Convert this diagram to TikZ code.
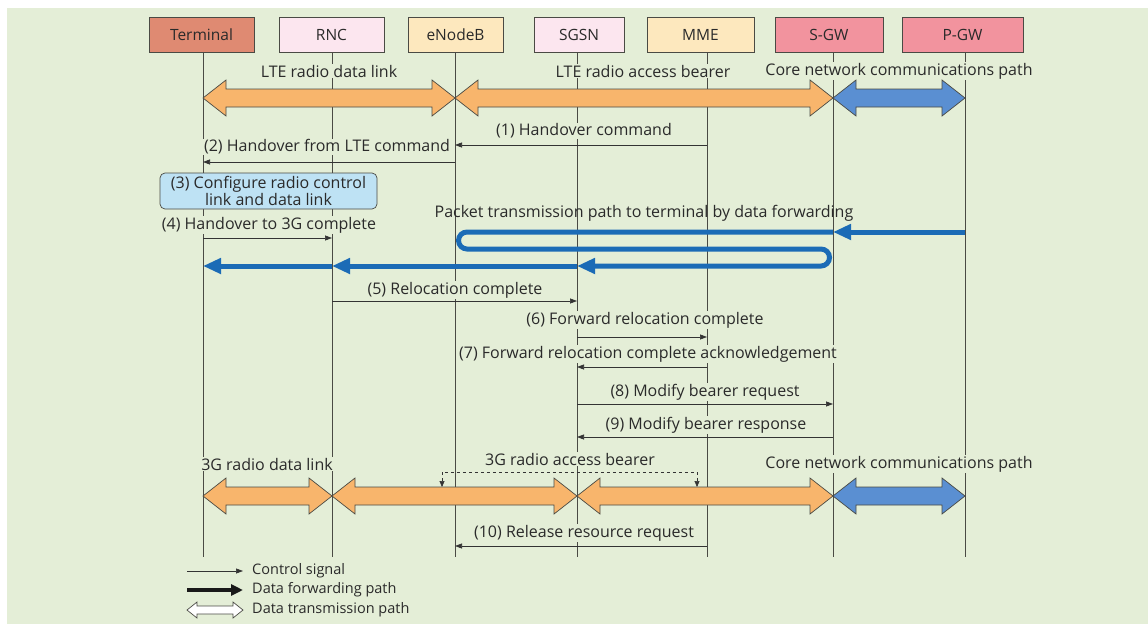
\documentclass[tikz,border=0pt]{standalone}
\usepackage{fontspec}
\setmainfont{Open Sans}
\usetikzlibrary{arrows.meta,calc}

\definecolor{bg}{HTML}{E4EED7}
\definecolor{termc}{HTML}{DF8A72}
\definecolor{pinkc}{HTML}{FCE6EF}
\definecolor{creamc}{HTML}{FDE8BE}
\definecolor{gwc}{HTML}{F2939E}
\definecolor{orangec}{HTML}{F8B56C}
\definecolor{bluec}{HTML}{5A8FD2}
\definecolor{fwdc}{HTML}{1B6BB6}
\definecolor{stepc}{HTML}{BEE2F4}
\definecolor{linec}{HTML}{4A4A44}
\definecolor{txtc}{HTML}{2A2A2A}

% outlined fat double arrow between two named points on one level
% #1 left point, #2 right point, #3 fill, #4 head length, #5 head half-height, #6 shaft half-height
\newcommand\fatpair[6]{%
  \filldraw[fill=#3, draw=linec, line width=0.7pt, line join=miter]
    (#1) -- ($(#1)+(#4,-#5)$) -- ($(#1)+(#4,-#6)$) -- ($(#2)+(-#4,-#6)$)
    -- ($(#2)+(-#4,-#5)$) -- (#2) -- ($(#2)+(-#4,#5)$) -- ($(#2)+(-#4,#6)$)
    -- ($(#1)+(#4,#6)$) -- ($(#1)+(#4,#5)$) -- cycle;}

\begin{document}
\begin{tikzpicture}[x=1pt,y=-1pt,
  hdr/.style={draw=linec, line width=0.8pt, minimum height=35pt, inner sep=0pt,
    text=txtc, font=\fontsize{15.5}{17}\selectfont},
  life/.style={draw=linec, line width=0.8pt},
  msg/.style={draw=black!80, line width=0.7pt, -{Triangle[length=7pt,width=5pt]}},
  lbl/.style={fill=bg, inner sep=1pt, text=txtc, font=\fontsize{16}{18}\selectfont},
  keytext/.style={anchor=west, inner sep=0pt, text=txtc, font=\fontsize{14.5}{16}\selectfont},
  fwd/.style={draw=fwdc, line width=5pt, -{Triangle[length=18pt,width=15pt]}},
  stepbox/.style={draw=linec, line width=0.7pt, fill=stepc, rounded corners=5pt,
    minimum width=217pt, minimum height=36pt, inner sep=0pt, align=center,
    text=txtc, font=\fontsize{16}{14}\selectfont},
  bracket/.style={draw=black!80, line width=0.6pt, dashed,
    {Triangle[length=6pt,width=5pt]}-{Triangle[length=6pt,width=5pt]}}]

\useasboundingbox (0,0) rectangle (1148,624);
\fill[white] (0,0) rectangle (1148,624);
\fill[bg] (7,8) rectangle (1148,624);

% network elements
\node[hdr, fill=termc,  minimum width=105pt] (Terminal) at (201.5,34.5) {Terminal};
\node[hdr, fill=pinkc,  minimum width=105pt] (RNC)      at (331.5,34.5) {RNC};
\node[hdr, fill=creamc, minimum width=95pt]  (eNodeB)   at (455.5,34.5) {eNodeB};
\node[hdr, fill=pinkc,  minimum width=90pt]  (SGSN)     at (579,34.5)   {SGSN};
\node[hdr, fill=creamc, minimum width=107pt] (MME)      at (700.5,34.5) {MME};
\node[hdr, fill=gwc,    minimum width=108pt] (SGW)      at (829,34.5)   {S-GW};
\node[hdr, fill=gwc,    minimum width=121pt] (PGW)      at (962.5,34.5) {P-GW};

% lifeline tops
\coordinate (lT)  at (203,52);
\coordinate (lR)  at (332,52);
\coordinate (lE)  at (455,52);
\coordinate (lSG) at (577,52);
\coordinate (lM)  at (707,52);
\coordinate (lS)  at (833,52);
\coordinate (lP)  at (965,52);
\foreach \n in {lT,lR,lE,lSG,lM,lS,lP}
  \draw[life] (\n) -- (\n |- 0,557);

% LTE bearers
\node[lbl] (labA) at (329,71) {LTE radio data link};
\node[lbl] (labB) at (643,71) {LTE radio access bearer};
\node[lbl] (labC) at (899,71) {Core network communications path};
\coordinate (aT) at (lT |- 0,98);
\coordinate (aE) at (lE |- 0,98);
\coordinate (aS) at (lS |- 0,98);
\coordinate (aP) at (lP |- 0,98);
\fatpair{aT}{aE}{orangec}{23}{18}{9}
\fatpair{aE}{aS}{orangec}{23}{18}{9}
\fatpair{aS}{aP}{bluec}{23}{18}{9}

% handover commands
\node[lbl] (m1) at (584,131) {(1) Handover command};
\draw[msg] (lM |- 0,145) -- (lE |- 0,145);
\node[lbl] (m2) at (327,147) {(2) Handover from LTE command};
\draw[msg] (lE |- 0,162) -- (lT |- 0,162);
\node[stepbox] (m3) at (268.5,191) {(3) Configure radio control\\link and data link};
\node[lbl] (m4) at (269,225) {(4) Handover to 3G complete};
\draw[msg] (lT |- 0,238) -- (lR |- 0,238);

% data forwarding towards the terminal
\node[lbl, fill=none] (fwdlab) at (644,213) {Packet transmission path to terminal by data forwarding};
\draw[fwd] (lP |- 0,232) -- (lS |- 0,232);
\draw[fwd, rounded corners=8.5pt] (lS |- 0,232) -- (458.5,232) -- (458.5,249)
  -- (829.5,249) -- (829.5,266) -- (lSG |- 0,266);
\draw[fwd] (lSG |- 0,266) -- (lR |- 0,266);
\draw[fwd] (lR |- 0,266) -- (lT |- 0,266);

% relocation and bearer update
\node[lbl] (m5) at (455,290) {(5) Relocation complete};
\draw[msg] (lR |- 0,301) -- (lSG |- 0,301);
\node[lbl] (m6) at (645,320) {(6) Forward relocation complete};
\draw[msg] (lSG |- 0,337) -- (lM |- 0,337);
\node[lbl] (m7) at (648,354) {(7) Forward relocation complete acknowledgement};
\draw[msg] (lM |- 0,367) -- (lSG |- 0,367);
\node[lbl] (m8) at (705,392) {(8) Modify bearer request};
\draw[msg] (lSG |- 0,404) -- (lS |- 0,404);
\node[lbl] (m9) at (706,425) {(9) Modify bearer response};
\draw[msg] (lS |- 0,437) -- (lSG |- 0,437);

% 3G bearers
\node[lbl] (labD) at (267,464) {3G radio data link};
\node[lbl] (labE) at (570,459) {3G radio access bearer};
\node[lbl] (labF) at (899,464) {Core network communications path};
\coordinate (bT)  at (lT |- 0,496);
\coordinate (bR)  at (lR |- 0,496);
\coordinate (bSG) at (lSG |- 0,496);
\coordinate (bS)  at (lS |- 0,496);
\coordinate (bP)  at (lP |- 0,496);
\fatpair{bT}{bR}{orangec}{23}{18}{9}
\fatpair{bR}{bSG}{orangec}{23}{18}{9}
\fatpair{bSG}{bS}{orangec}{23}{18}{9}
\fatpair{bS}{bP}{bluec}{23}{18}{9}
\coordinate (brL) at (442,487);
\coordinate (brR) at (697,487);
\draw[bracket] (brL) -- ++(0,-15) -| (brR);

\node[lbl] (m10) at (584,533) {(10) Release resource request};
\draw[msg] (lM |- 0,546) -- (lE |- 0,546);

% key
\coordinate (k1a) at (187,571); \coordinate (k1b) at (243,571);
\coordinate (k2a) at (187,590); \coordinate (k2b) at (243,590);
\coordinate (k3a) at (187,610); \coordinate (k3b) at (243,610);
\draw[msg] (k1a) -- (k1b);
\draw[line width=4pt, black!90, -{Triangle[length=12pt,width=11pt]}] (k2a) -- (k2b);
\fatpair{k3a}{k3b}{white}{10}{8}{4}
\node[keytext] (key1) at (252,571) {Control signal};
\node[keytext] (key2) at (252,590) {Data forwarding path};
\node[keytext] (key3) at (252,610) {Data transmission path};
\end{tikzpicture}
\end{document}
